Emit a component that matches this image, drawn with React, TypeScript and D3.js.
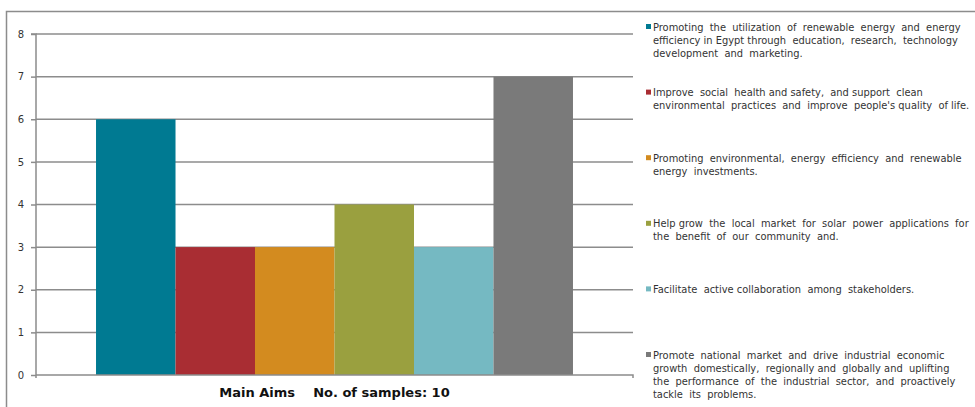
import { useEffect, useRef } from "react";
import * as d3 from "d3";

// the six aims, each one split into the lines shown in the legend
const aims = [
  ["Promoting  the  utilization  of  renewable  energy  and  energy", "efficiency in Egypt through  education,  research,  technology", "development  and  marketing."],
  ["Improve  social  health and safety,  and support  clean", "environmental  practices  and  improve  people's quality  of life."],
  ["Promoting  environmental,  energy  efficiency  and  renewable", "energy  investments."],
  ["Help grow  the  local  market  for  solar  power  applications  for", "the  benefit  of  our  community  and."],
  ["Facilitate  active collaboration  among  stakeholders."],
  ["Promote  national  market  and  drive  industrial  economic", "growth  domestically,  regionally and  globally and  uplifting", "the  performance  of  the  industrial  sector,  and  proactively", "tackle  its  problems."],
];
const counts = [6, 3, 3, 4, 3, 7];
const colors = ["#007a92", "#a92d33", "#d38b1f", "#9aa03f", "#75b9c2", "#7a7a7a"];
const yTicks = [0, 1, 2, 3, 4, 5, 6, 7, 8];
const axisTitle = "Main Aims    No. of samples: 10";

export default function App() {
  const svgRef = useRef(null);

  useEffect(() => {
    const width = 975;
    const height = 407;
    const margin = { top: 34, left: 36, right: 342, bottom: 32 };

    const svg = d3.select(svgRef.current);
    svg.selectAll("*").remove();
    svg.attr("width", width).attr("height", height);

    const idx = counts.map((_, i) => i);

    const x = d3.scaleBand<number>()
      .domain(idx)
      .range([margin.left, width - margin.right])
      .paddingInner(0)
      .paddingOuter(0.755);

    const y = d3.scaleLinear()
      .domain([0, 8])
      .range([height - margin.bottom, margin.top]);

    // outer frame
    svg.append("rect")
      .attr("x", 6.5).attr("y", 11.5)
      .attr("width", 1000).attr("height", 500)
      .attr("fill", "none").attr("stroke", "#8c8c8c").attr("stroke-width", 1.5);

    // gridlines
    svg.append("g")
      .selectAll("line")
      .data(yTicks.filter(d => d > 0))
      .join("line")
      .attr("x1", margin.left).attr("x2", width - margin.right)
      .attr("y1", d => y(d)).attr("y2", d => y(d))
      .attr("stroke", "#8c8c8c").attr("stroke-width", 1.5);

    // bars
    svg.append("g")
      .selectAll("rect")
      .data(idx)
      .join("rect")
      .attr("x", i => x(i)!)
      .attr("width", x.bandwidth())
      .attr("y", i => y(counts[i]))
      .attr("height", i => y(0) - y(counts[i]))
      .attr("fill", i => colors[i]);

    // y axis
    const yAxis = svg.append("g")
      .attr("transform", `translate(${margin.left},0)`)
      .call(d3.axisLeft(y).tickValues(yTicks).tickSize(5).tickFormat(d3.format("d")));
    yAxis.selectAll("path,line").attr("stroke", "#8c8c8c").attr("stroke-width", 1.5);
    yAxis.select(".domain").attr("d", `M-5,${y(8)}H0V${y(0) + 3}`);
    yAxis.selectAll("text")
      .attr("fill", "#333")
      .attr("x", -12)
      .style("font-family", "DejaVu Sans, Verdana, sans-serif")
      .style("font-size", "10px");

    // x axis
    const xEnd = width - margin.right;
    svg.append("path")
      .attr("d", `M${margin.left},${y(0)}H${xEnd}V${y(0) + 3}`)
      .attr("fill", "none").attr("stroke", "#8c8c8c").attr("stroke-width", 1.5);

    svg.append("text")
      .attr("x", (margin.left + xEnd) / 2)
      .attr("y", 397)
      .attr("text-anchor", "middle")
      .attr("fill", "#111")
      .style("font-family", "DejaVu Sans, Verdana, sans-serif")
      .style("font-size", "13px")
      .style("font-weight", "bold")
      .style("white-space", "pre")
      .attr("xml:space", "preserve")
      .text(axisTitle);

    // legend
    const legY = d3.scaleLinear().domain([0, aims.length - 1]).range([27, 355]);
    const leg = svg.append("g")
      .selectAll("g")
      .data(idx)
      .join("g")
      .attr("transform", i => `translate(646,${legY(i)})`);
    leg.append("rect")
      .attr("x", 0).attr("y", -3)
      .attr("width", 5).attr("height", 5)
      .attr("fill", i => colors[i]);
    leg.each(function (i) {
      const g = d3.select(this);
      aims[i].forEach((line, k) => {
        g.append("text")
          .attr("x", 7)
          .attr("y", k * 13 + 3.5)
          .attr("fill", "#333")
          .attr("xml:space", "preserve")
          .style("white-space", "pre")
          .style("font-family", "DejaVu Sans, Verdana, sans-serif")
          .style("font-size", "9.9px")
          .text(line);
      });
    });
  }, []);

  return (
    <svg ref={svgRef} style={{ position: "absolute", left: 0, top: 0 }}></svg>
  );
}
